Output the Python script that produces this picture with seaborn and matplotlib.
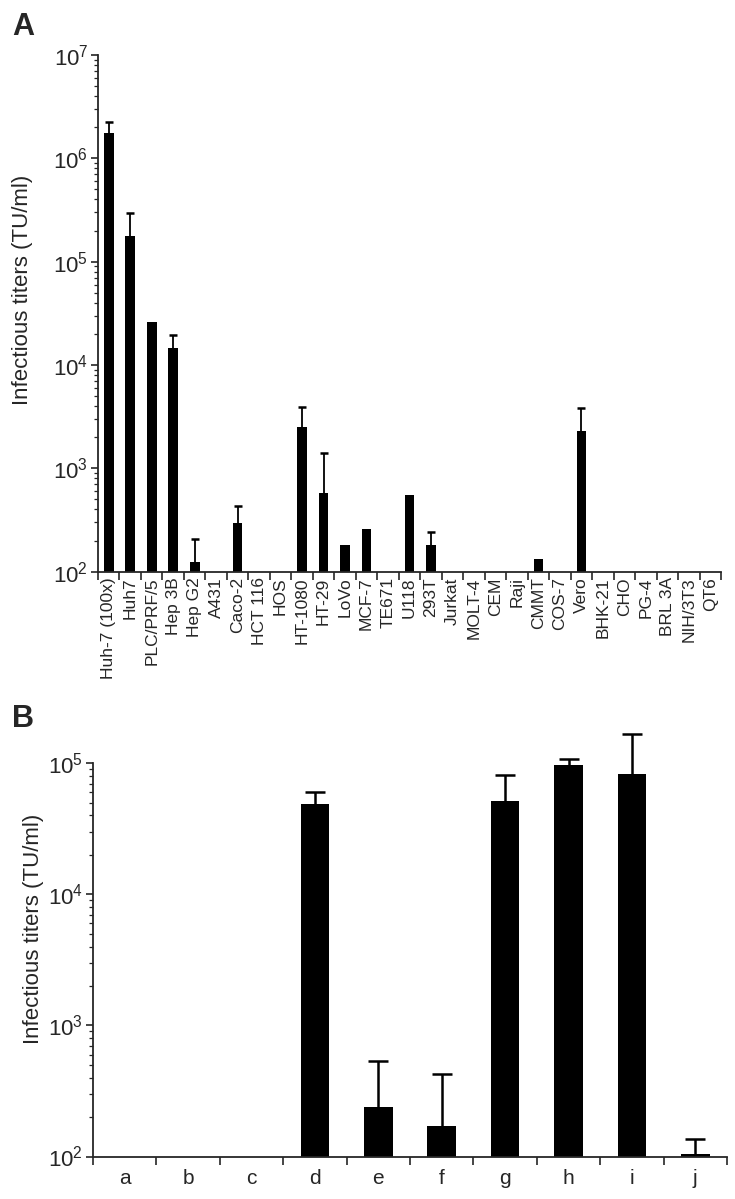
import numpy as np
import matplotlib
matplotlib.use("Agg")
import matplotlib.pyplot as plt
import seaborn as sns
from matplotlib.ticker import LogLocator, NullFormatter

# ---------------- data ----------------
cells_A = ["Huh-7 (100x)", "Huh7", "PLC/PRF/5", "Hep 3B", "Hep G2", "A431", "Caco-2",
           "HCT 116", "HOS", "HT-1080", "HT-29", "LoVo", "MCF-7", "TE671", "U118",
           "293T", "Jurkat", "MOLT-4", "CEM", "Raji", "CMMT", "COS-7", "Vero",
           "BHK-21", "CHO", "PG-4", "BRL 3A", "NIH/3T3", "QT6"]
titer_A = [1.77e6, 1.77e5, 2.63e4, 1.46e4, 125, 100, 298,
           100, 100, 2.52e3, 580, 180, 261, 100, 547,
           183, 100, 100, 100, 100, 134, 100, 2.29e3,
           100, 100, 100, 100, 100, 100]
upper_A = [2.24e6, 2.95e5, np.nan, 1.96e4, 209, np.nan, 431,
           np.nan, np.nan, 3.9e3, 1.41e3, np.nan, np.nan, np.nan, np.nan,
           243, np.nan, np.nan, np.nan, np.nan, np.nan, np.nan, 3.86e3,
           np.nan, np.nan, np.nan, np.nan, np.nan, np.nan]

groups_B = ["a", "b", "c", "d", "e", "f", "g", "h", "i", "j"]
titer_B = [100, 100, 100, 4.9e4, 240, 172, 5.2e4, 9.7e4, 8.3e4, 105]
upper_B = [np.nan, np.nan, np.nan, 6.0e4, 537, 427, 8.1e4, 1.07e5, 1.66e5, 136]

ylabel = "Infectious titers (TU/ml)"

# ---------------- style ----------------
sns.set_style("ticks")
plt.rcParams["font.family"] = ["Liberation Sans", "DejaVu Sans"]
plt.rcParams["mathtext.fontset"] = "custom"
plt.rcParams["mathtext.rm"] = "Liberation Sans"
plt.rcParams["mathtext.it"] = "Liberation Sans:italic"
plt.rcParams["mathtext.bf"] = "Liberation Sans:bold"
plt.rcParams["axes.linewidth"] = 1.3

fig = plt.figure(figsize=(7.35, 11.99), dpi=100)
W, H = 735, 1199
axA = fig.add_axes([98 / W, 1 - 571.7 / H, 623 / W, (571.7 - 55) / H])
axB = fig.add_axes([93 / W, 1 - 1156.5 / H, 634 / W, (1156.5 - 763.3) / H])


def draw(ax, cats, vals, ups, width, capsize, ylim, xfs, rot, ylab_xy, xpad, elw):
    sns.barplot(x=cats, y=vals, color="black", saturation=1, width=width,
                errorbar=None, linewidth=0, ax=ax)
    ax.set_yscale("log")
    ax.set_ylim(*ylim)
    n = len(cats)
    ax.set_xlim(-0.5, n - 0.5)
    pos = np.arange(n)
    vals = np.asarray(vals, float)
    ups = np.asarray(ups, float)
    m = ~np.isnan(ups)
    eb = ax.errorbar(pos[m], vals[m], yerr=[np.zeros(m.sum()), ups[m] - vals[m]],
                     fmt="none", ecolor="black", elinewidth=elw, capsize=capsize,
                     capthick=1.8)
    caps = eb[1]
    if len(caps) == 2:
        caps[0].set_visible(False)   # hide the lower cap (sits on the bar top)
    for art in eb.get_children():
        art.set_clip_on(False)
    # category labels at centres, ticks at boundaries
    ax.set_xticks(pos)
    ax.set_xticklabels(cats, rotation=rot, fontsize=xfs)
    ax.tick_params(axis="x", which="major", length=0, pad=xpad)
    ax.set_xticks(np.arange(-0.5, n, 1.0), minor=True)
    ax.tick_params(axis="x", which="minor", length=5.5, width=1.2, direction="out")
    # log y ticks
    ax.yaxis.set_major_locator(LogLocator(base=10, numticks=20))
    ax.yaxis.set_minor_locator(LogLocator(base=10, subs=np.arange(2, 10), numticks=20))
    ax.yaxis.set_minor_formatter(NullFormatter())
    ax.tick_params(axis="y", which="major", length=5, width=1.2, labelsize=16, pad=2)
    ax.tick_params(axis="y", which="minor", length=3, width=0.9)
    ax.set_xlabel("")
    ax.set_ylabel(ylabel, fontsize=16)
    ax.yaxis.set_label_coords(*ylab_xy)
    sns.despine(ax=ax)


draw(axA, cells_A, titer_A, upper_A, 0.45, 3, (1e2, 1e7), 12.5, 90,
     (-0.104, 0.545), 4, 1.3)
draw(axB, groups_B, titer_B, upper_B, 0.45, 7, (1e2, 1e5), 15, 0,
     (-0.077, 0.58), 9, 1.8)

fig.text(12 / W, 1 - 12 / H, "A", fontsize=22, fontweight="bold", va="top", ha="left")
fig.text(12 / W, 1 - 704 / H, "B", fontsize=22, fontweight="bold", va="top", ha="left")

fig.savefig("out.png", dpi=100)
